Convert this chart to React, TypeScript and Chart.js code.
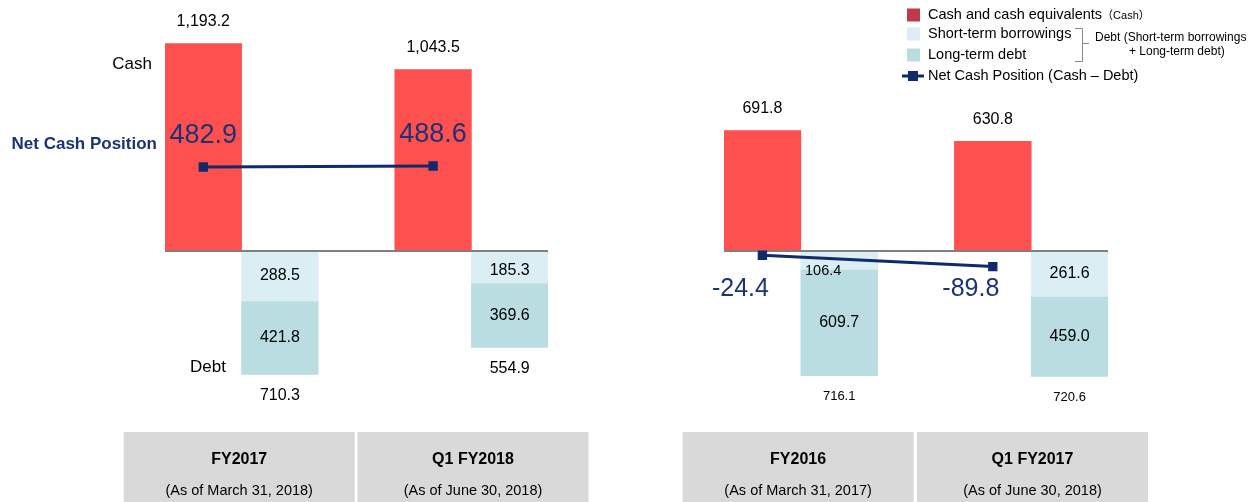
import React, { useEffect, useRef } from "react";
import { Chart, registerables } from "chart.js";

Chart.register(...registerables);

// ---------- data ----------
const leftCategories = ["FY2017", "Q1 FY2018"];
const leftAsOf = ["(As of March 31, 2018)", "(As of June 30, 2018)"];
const leftCash = [1193.2, 1043.5];
const leftShortTerm = [288.5, 185.3];
const leftLongTerm = [421.8, 369.6];
const leftDebtTotal = [710.3, 554.9];
const leftNetCash = [482.9, 488.6];

const rightCategories = ["FY2016", "Q1 FY2017"];
const rightAsOf = ["(As of March 31, 2017)", "(As of June 30, 2018)"];
const rightCash = [691.8, 630.8];
const rightShortTerm = [106.4, 261.6];
const rightLongTerm = [609.7, 459.0];
const rightDebtTotal = [716.1, 720.6];
const rightNetCash = [-24.4, -89.8];

const legendLabels = [
  "Cash and cash equivalents",
  "Short-term borrowings",
  "Long-term debt",
  "Net Cash Position (Cash – Debt)",
];
const legendCashSuffix = "（Cash）";
const debtNote = ["Debt (Short-term borrowings", "+ Long-term debt)"];
const sideLabels = { cash: "Cash", net: "Net Cash Position", debt: "Debt" };

// ---------- styles ----------
const W = 1255;
const H = 502;
const FONT = '"Liberation Sans", Arial, "Noto Sans CJK JP", sans-serif';
const RED = "#FF5050";
const LIGHT = "#DAEEF3";
const TEAL = "#B9DDE1";
const NAVY = "#102A6B";
const NAVY_TEXT = "#1B3372";
const LEGEND_RED = "#C0394B";
const BOX = "#D9D9D9";

const fmt = (v: number) =>
  v.toLocaleString("en-US", { minimumFractionDigits: 1, maximumFractionDigits: 1 });

function drawText(
  ctx: CanvasRenderingContext2D,
  s: string,
  x: number,
  y: number,
  size: number,
  color = "#000",
  align: CanvasTextAlign = "center",
  bold = false
) {
  ctx.font = `${bold ? "bold " : ""}${size}px ${FONT}`;
  ctx.fillStyle = color;
  ctx.textAlign = align;
  ctx.textBaseline = "middle";
  ctx.fillText(s, x, y);
}

type PanelData = {
  categories: string[];
  asOf: string[];
  cash: number[];
  shortTerm: number[];
  longTerm: number[];
  debtTotal: number[];
  netCash: number[];
};

type PanelLayout = {
  areaLeft: number;
  areaRight: number;
  side: "left" | "right";
  totalFont: number;
  netFont: number;
};

function Panel({ data, layout }: { data: PanelData; layout: PanelLayout }) {
  const ref = useRef<HTMLCanvasElement>(null);

  useEffect(() => {
    const canvas = ref.current!;
    const n = data.cash.length;
    const cashSlot = (i: number) => i * 3;
    const debtSlot = (i: number) => i * 3 + 1;

    const overlay = {
      id: "overlay",
      beforeDatasetDraw(chart: any, args: any) {
        if (args.meta.type !== "line") return;
        const ctx = chart.ctx as CanvasRenderingContext2D;
        const y0 = chart.scales.y.getPixelForValue(0);
        ctx.save();
        ctx.strokeStyle = "#808080";
        ctx.lineWidth = 2;
        ctx.beginPath();
        ctx.moveTo(chart.chartArea.left, y0);
        ctx.lineTo(chart.chartArea.right, y0);
        ctx.stroke();
        ctx.restore();
      },
      afterDraw(chart: any) {
        const ctx = chart.ctx as CanvasRenderingContext2D;
        const xs = chart.scales.x;
        const ys = chart.scales.y;
        const y0 = ys.getPixelForValue(0);
        ctx.save();
        for (let i = 0; i < n; i++) {
          const xc = xs.getPixelForValue(cashSlot(i));
          const xd = xs.getPixelForValue(debtSlot(i));
          // cash value
          drawText(ctx, fmt(data.cash[i]), xc, ys.getPixelForValue(data.cash[i]) - 22, 16);
          // debt segments
          const yS = ys.getPixelForValue(-data.shortTerm[i]);
          const yL = ys.getPixelForValue(-(data.shortTerm[i] + data.longTerm[i]));
          const thin = yS - y0 < 25;
          const sy = Math.max((y0 + yS) / 2, y0 + 20);
          drawText(ctx, fmt(data.shortTerm[i]), thin ? xd - 16 : xd, sy, thin ? 14.5 : 16);
          drawText(ctx, fmt(data.longTerm[i]), xd, (yS + yL) / 2, 16);
          drawText(
            ctx,
            fmt(data.debtTotal[i]),
            xd,
            ys.getPixelForValue(-data.debtTotal[i]) + 21,
            layout.totalFont
          );
          // net cash label
          if (layout.side === "left") {
            drawText(ctx, fmt(data.netCash[i]), xc, ys.getPixelForValue(data.netCash[i]) - 31, layout.netFont, NAVY_TEXT);
          } else {
            drawText(ctx, fmt(data.netCash[i]), xc - 22, y0 + 38, layout.netFont, NAVY_TEXT);
          }
          // category box
          const bl = xs.getPixelForValue(cashSlot(i) - 1) - 3 + 4 * i;
          const bw = 231;
          ctx.fillStyle = BOX;
          ctx.fillRect(bl, 432, bw, H - 432);
          drawText(ctx, data.categories[i], bl + bw / 2, 460, 16, "#000", "center", true);
          drawText(ctx, data.asOf[i], bl + bw / 2, 491, 14.5);
        }

        if (layout.side === "left") {
          drawText(ctx, sideLabels.cash, 152, 64, 17, "#000", "right");
          drawText(ctx, sideLabels.net, 157, 144, 17, NAVY_TEXT, "right", true);
          drawText(ctx, sideLabels.debt, 226, 367, 17, "#000", "right");
        } else {
          // legend
          const rows = [15, 34, 55, 76];
          const sw = [LEGEND_RED, LIGHT, TEAL];
          for (let k = 0; k < 3; k++) {
            ctx.fillStyle = sw[k];
            ctx.fillRect(907, rows[k] - 6.5, 13, 13);
          }
          ctx.strokeStyle = NAVY;
          ctx.lineWidth = 3;
          ctx.beginPath();
          ctx.moveTo(902, rows[3]);
          ctx.lineTo(924, rows[3]);
          ctx.stroke();
          ctx.fillStyle = NAVY;
          ctx.fillRect(908, rows[3] - 5, 10, 10);
          for (let k = 0; k < 4; k++) {
            drawText(ctx, legendLabels[k], 928, rows[k], 14.5, "#000", "left");
          }
          ctx.font = `14.5px ${FONT}`;
          const w0 = ctx.measureText(legendLabels[0]).width;
          drawText(ctx, legendCashSuffix, 928 + w0, rows[0] + 1, 11, "#000", "left");
          // bracket
          ctx.strokeStyle = "#8A8A8A";
          ctx.lineWidth = 1;
          ctx.beginPath();
          ctx.moveTo(1075, 28.5);
          ctx.lineTo(1082.5, 28.5);
          ctx.lineTo(1082.5, 61.5);
          ctx.lineTo(1075, 61.5);
          ctx.moveTo(1082.5, 43.5);
          ctx.lineTo(1089, 43.5);
          ctx.stroke();
          drawText(ctx, debtNote[0], 1095, 38, 12, "#000", "left");
          drawText(ctx, debtNote[1], 1129, 52, 12, "#000", "left");
        }
        ctx.restore();
      },
    };

    const chart = new Chart(canvas, {
      type: "bar",
      data: {
        datasets: [
          {
            type: "line",
            label: "net",
            data: data.netCash.map((v, i) => ({ x: cashSlot(i), y: v })),
            borderColor: NAVY,
            backgroundColor: NAVY,
            borderWidth: 3,
            pointStyle: "rect",
            pointRadius: 4.5,
            pointBackgroundColor: NAVY,
            pointBorderColor: NAVY,
            stack: "net",
            order: 0,
          } as any,
          {
            type: "bar",
            label: "cash",
            data: data.cash.map((v, i) => ({ x: cashSlot(i), y: v })),
            backgroundColor: RED,
            grouped: false,
            barPercentage: 1,
            categoryPercentage: 1,
            stack: "cash",
            order: 1,
          } as any,
          {
            type: "bar",
            label: "short",
            data: data.shortTerm.map((v, i) => ({ x: debtSlot(i), y: -v })),
            backgroundColor: LIGHT,
            grouped: false,
            barPercentage: 1,
            categoryPercentage: 1,
            stack: "debt",
            order: 1,
          } as any,
          {
            type: "bar",
            label: "long",
            data: data.longTerm.map((v, i) => ({ x: debtSlot(i), y: -v })),
            backgroundColor: TEAL,
            grouped: false,
            barPercentage: 1,
            categoryPercentage: 1,
            stack: "debt",
            order: 1,
          } as any,
        ],
      },
      options: {
        animation: false,
        responsive: false,
        events: [],
        layout: {
          padding: { left: layout.areaLeft, right: W - layout.areaRight, top: 7, bottom: 5 },
        },
        plugins: { legend: { display: false }, tooltip: { enabled: false } },
        scales: {
          x: {
            type: "linear",
            min: -0.5,
            max: 4.5,
            offset: false,
            display: false,
            ticks: { stepSize: 1 },
            grid: { display: false, offset: false },
          },
          y: {
            type: "linear",
            min: -1400,
            max: 1400,
            display: false,
            stacked: true,
            grid: { display: false },
          },
        },
      } as any,
      plugins: [overlay],
    });
    return () => chart.destroy();
  }, []);

  return (
    <canvas
      ref={ref}
      width={W}
      height={H}
      style={{ position: "absolute", left: 0, top: 0, width: W, height: H }}
    />
  );
}

export default function App() {
  const left: PanelData = {
    categories: leftCategories,
    asOf: leftAsOf,
    cash: leftCash,
    shortTerm: leftShortTerm,
    longTerm: leftLongTerm,
    debtTotal: leftDebtTotal,
    netCash: leftNetCash,
  };
  const right: PanelData = {
    categories: rightCategories,
    asOf: rightAsOf,
    cash: rightCash,
    shortTerm: rightShortTerm,
    longTerm: rightLongTerm,
    debtTotal: rightDebtTotal,
    netCash: rightNetCash,
  };
  return (
    <div
      style={{
        position: "fixed",
        left: 0,
        top: 0,
        width: W,
        height: H,
        background: "#fff",
        overflow: "hidden",
      }}
    >
      <Panel data={left} layout={{ areaLeft: 165, areaRight: 548, side: "left", totalFont: 16, netFont: 27 }} />
      <Panel data={right} layout={{ areaLeft: 724, areaRight: 1108, side: "right", totalFont: 13, netFont: 25 }} />
    </div>
  );
}
